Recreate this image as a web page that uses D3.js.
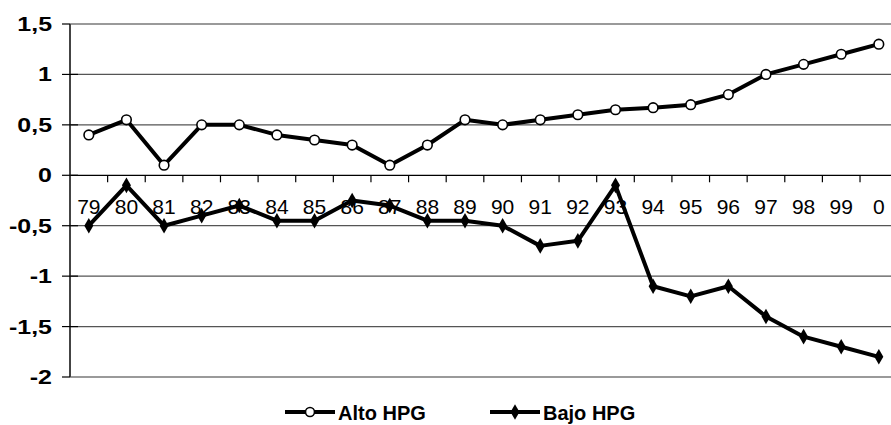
<!DOCTYPE html>
<html>
<head>
<meta charset="utf-8">
<script src="https://cdnjs.cloudflare.com/ajax/libs/d3/7.8.5/d3.min.js"></script>
<style>
  body { margin: 0; background: #fff; }
  text { font-family: "Liberation Sans", Arial, sans-serif; }
</style>
</head>
<body>
<div id="chart"></div>
<script>
var years = ["79","80","81","82","83","84","85","86","87","88","89","90","91","92","93","94","95","96","97","98","99","0"];
var altoHPG = [0.4, 0.55, 0.1, 0.5, 0.5, 0.4, 0.35, 0.3, 0.1, 0.3, 0.55, 0.5, 0.55, 0.6, 0.65, 0.67, 0.7, 0.8, 1.0, 1.1, 1.2, 1.3];
var bajoHPG = [-0.5, -0.1, -0.5, -0.4, -0.3, -0.45, -0.45, -0.25, -0.3, -0.45, -0.45, -0.5, -0.7, -0.65, -0.1, -1.1, -1.2, -1.1, -1.4, -1.6, -1.7, -1.8];
var yTicks = [-2, -1.5, -1, -0.5, 0, 0.5, 1, 1.5];

var width = 891, height = 425;
var left = 70, bandW = 37.62;

var svg = d3.select("#chart")
    .append("svg")
    .attr("width", width)
    .attr("height", height);

var x = d3.scaleBand()
    .domain(years)
    .range([left, left + bandW * years.length]);

var y = d3.scaleLinear()
    .domain([-2, 1.5])
    .range([377, 24]);

var fmt = function (d) { return String(d).replace(".", ","); };

// gridlines
svg.append("g")
    .selectAll("line")
    .data(yTicks)
    .enter().append("line")
    .attr("x1", left).attr("x2", width)
    .attr("y1", function (d) { return y(d); })
    .attr("y2", function (d) { return y(d); })
    .style("stroke", function (d) {
        if (d === 1.5 || d === -2) return "#9a9a9a";
        if (d === 0) return "#000";
        return "#555";
    })
    .style("stroke-width", function (d) { return (d === 1.5 || d === -2) ? 2 : 1.2; });

// y axis line + ticks (ticks cross the axis)
svg.append("line")
    .attr("x1", left).attr("x2", left)
    .attr("y1", y(1.5)).attr("y2", y(-2))
    .style("stroke", "#444").style("stroke-width", 2);

svg.append("g")
    .selectAll("line")
    .data(yTicks)
    .enter().append("line")
    .attr("x1", left - 8).attr("x2", function (d) { return (d === 1.5 || d === -2) ? left : left + 8; })
    .attr("y1", function (d) { return y(d); })
    .attr("y2", function (d) { return y(d); })
    .style("stroke", "#000").style("stroke-width", 1.2);

svg.append("g")
    .selectAll("text")
    .data(yTicks)
    .enter().append("text")
    .attr("transform", function (d) { return "translate(52," + (y(d) + 7) + ") scale(1.28,1)"; })
    .attr("text-anchor", "end")
    .style("font-size", "19.5px")
    .style("font-weight", "bold")
    .text(fmt);

// category ticks on zero line
svg.append("g")
    .selectAll("line")
    .data(years)
    .enter().append("line")
    .attr("x1", function (d) { return x(d) + x.bandwidth(); })
    .attr("x2", function (d) { return x(d) + x.bandwidth(); })
    .attr("y1", y(0)).attr("y2", y(0) + 7)
    .style("stroke", "#000").style("stroke-width", 1.2);

// category labels
svg.append("g")
    .selectAll("text")
    .data(years)
    .enter().append("text")
    .attr("x", function (d) { return x(d) + x.bandwidth() / 2; })
    .attr("y", y(0) + 39)
    .attr("text-anchor", "middle")
    .style("font-size", "21px")
    .text(function (d) { return d; });

var line = d3.line()
    .x(function (d, i) { return x(years[i]) + x.bandwidth() / 2; })
    .y(function (d) { return y(d); });

var diamond = d3.symbol().type(d3.symbolDiamond).size(70);

// Bajo HPG
svg.append("path")
    .datum(bajoHPG)
    .attr("d", line)
    .style("fill", "none")
    .style("stroke", "#000")
    .style("stroke-width", 4)
    .style("stroke-linejoin", "round");

svg.append("g")
    .selectAll("path")
    .data(bajoHPG)
    .enter().append("path")
    .attr("d", diamond)
    .attr("transform", function (d, i) { return "translate(" + (x(years[i]) + x.bandwidth() / 2) + "," + y(d) + ")"; })
    .style("fill", "#000");

// Alto HPG
svg.append("path")
    .datum(altoHPG)
    .attr("d", line)
    .style("fill", "none")
    .style("stroke", "#000")
    .style("stroke-width", 4)
    .style("stroke-linejoin", "round");

svg.append("g")
    .selectAll("circle")
    .data(altoHPG)
    .enter().append("circle")
    .attr("cx", function (d, i) { return x(years[i]) + x.bandwidth() / 2; })
    .attr("cy", function (d) { return y(d); })
    .attr("r", 4.8)
    .style("fill", "#fff")
    .style("stroke", "#000")
    .style("stroke-width", 1.6);

// legend
var legY = 412;
var lg = svg.append("g");
lg.append("line").attr("x1", 285).attr("x2", 335).attr("y1", legY).attr("y2", legY)
    .style("stroke", "#000").style("stroke-width", 4);
lg.append("circle").attr("cx", 310).attr("cy", legY).attr("r", 4.5)
    .style("fill", "#fff").style("stroke", "#000").style("stroke-width", 1.6);
lg.append("text").attr("x", 338).attr("y", legY + 8)
    .style("font-size", "20px").style("font-weight", "bold").text("Alto HPG");

lg.append("line").attr("x1", 490).attr("x2", 540).attr("y1", legY).attr("y2", legY)
    .style("stroke", "#000").style("stroke-width", 4);
lg.append("path").attr("d", diamond).attr("transform", "translate(515," + legY + ")")
    .style("fill", "#000");
lg.append("text").attr("x", 543).attr("y", legY + 8)
    .style("font-size", "20px").style("font-weight", "bold").text("Bajo HPG");
</script>
</body>
</html>
